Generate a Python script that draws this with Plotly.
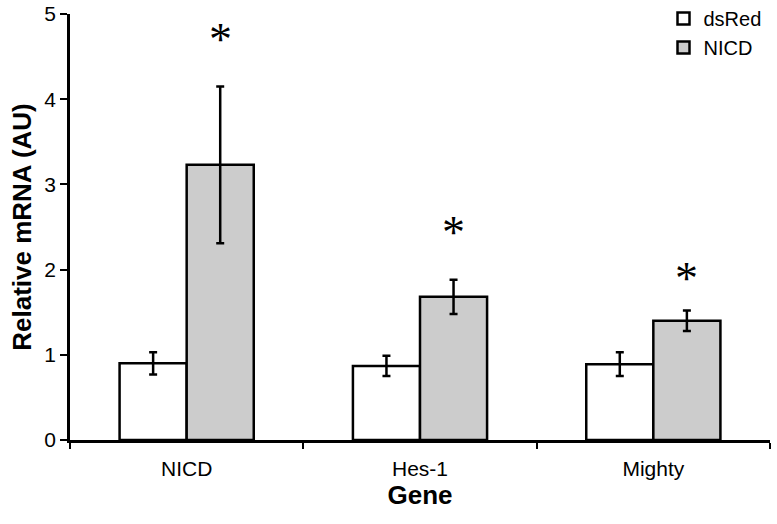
import plotly.graph_objects as go

genes = ["NICD", "Hes-1", "Mighty"]
dsred_vals = [0.90, 0.87, 0.89]
dsred_err = [0.13, 0.12, 0.14]
nicd_vals = [3.23, 1.68, 1.40]
nicd_err = [0.92, 0.20, 0.12]
star_y = [4.70, 2.43, 1.90]
y_ticks = [0, 1, 2, 3, 4, 5]

FONT = "Liberation Sans, Arial, sans-serif"
bargap = 0.425

fig = go.Figure()
fig.add_trace(go.Bar(
    name="dsRed", x=genes, y=dsred_vals,
    marker=dict(color="white", line=dict(color="black", width=2.5)),
    error_y=dict(type="data", array=dsred_err, color="black", thickness=2.5, width=4),
))
fig.add_trace(go.Bar(
    name="NICD", x=genes, y=nicd_vals,
    marker=dict(color="#cccccc", line=dict(color="black", width=2.5)),
    error_y=dict(type="data", array=nicd_err, color="black", thickness=2.5, width=4),
))

bar_w = (1 - bargap) / 2
for i, sy in enumerate(star_y):
    fig.add_annotation(x=i + bar_w / 2, y=sy, xref="x", yref="y", text="*",
                       showarrow=False, font=dict(family="Liberation Serif, Times New Roman, serif",
                                                  size=46, color="black"), yanchor="middle")

fig.update_layout(
    width=777, height=524,
    margin=dict(l=70, r=7, t=14, b=84, autoexpand=False),
    plot_bgcolor="white", paper_bgcolor="white",
    barmode="group", bargap=bargap, bargroupgap=0,
    font=dict(family=FONT, color="black"),
    legend=dict(x=0.995, y=1.035, xanchor="right", yanchor="top",
                font=dict(size=20, family=FONT), bgcolor="rgba(0,0,0,0)",
                itemwidth=30, tracegroupgap=0),
    showlegend=True,
)
fig.update_xaxes(
    showline=True, linecolor="black", linewidth=2.5, automargin=False,
    ticks="outside", tickson="boundaries", ticklen=6, tickwidth=2, tickcolor="black",
    tickfont=dict(size=21, family=FONT), ticklabelstandoff=8,
    title=dict(text="<b>Gene</b>", font=dict(size=26, family=FONT), standoff=6),
)
fig.update_yaxes(
    range=[0, 5], tickvals=y_ticks, showgrid=False, zeroline=False, automargin=False,
    showline=True, linecolor="black", linewidth=2.5,
    ticks="outside", ticklen=7, tickwidth=2, tickcolor="black",
    tickfont=dict(size=21, family=FONT),
    title=dict(text="<b>Relative mRNA (AU)</b>", font=dict(size=26, family=FONT), standoff=6),
)
fig.write_html("out.html", config={"displayModeBar": False},
               post_script="document.body.style.margin='0';")
